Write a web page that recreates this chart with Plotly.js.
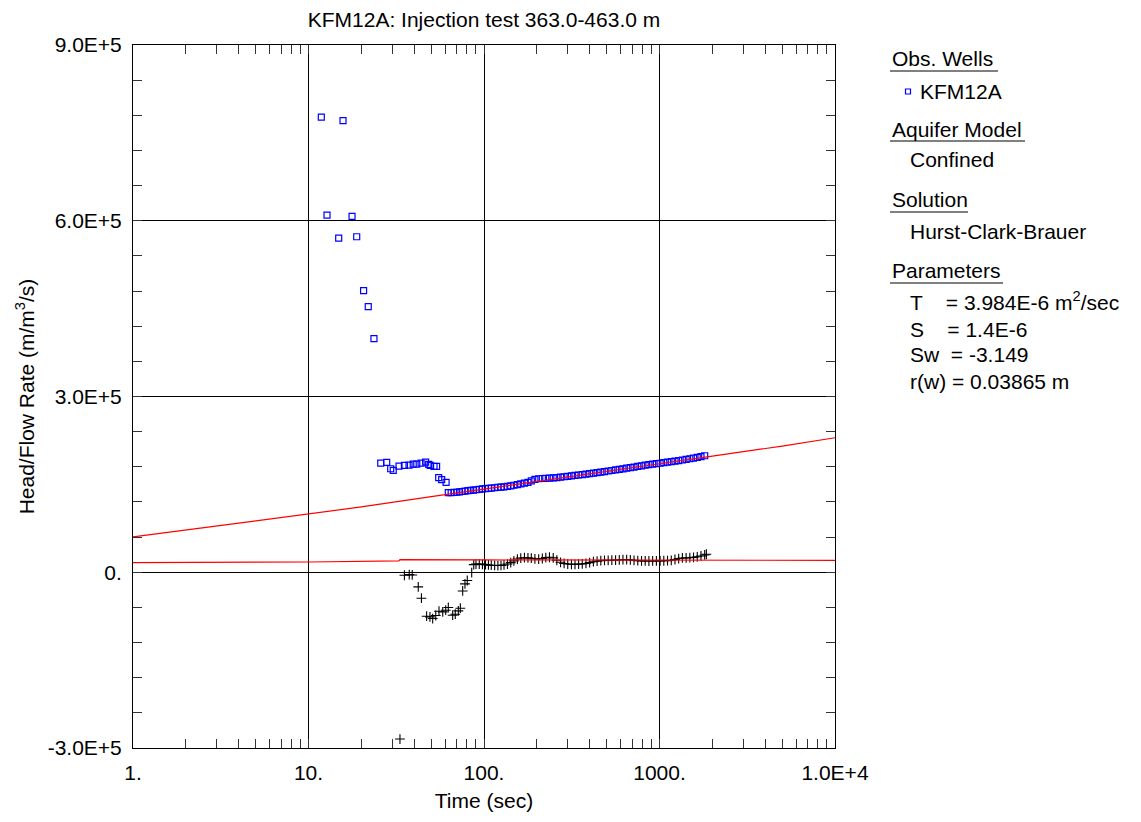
<!DOCTYPE html>
<html>
<head>
<meta charset="utf-8">
<script src="https://cdn.plot.ly/plotly-3.0.1.min.js"></script>
<style>html,body{margin:0;padding:0;background:#fff;}#chart{width:1141px;height:822px;}</style>
</head>
<body>
<div id="chart"></div>
<script>
// Observation well KFM12A (head / flow rate), blue squares
var obsTime = [11.83, 12.75, 14.86, 15.73, 17.7, 18.82, 20.6, 21.9, 23.6, 25.8, 27.9, 29.4, 30.4, 32.8, 35.2, 37.4, 39.5, 41.4, 43.8, 46.5, 48.4, 49.4, 51.9, 53.7, 55.2, 57.4, 60.8,
  62.6, 65, 67.5, 70, 72.5, 75, 78, 81, 84, 87, 90, 94, 98, 102, 106, 110, 115, 120, 125, 130, 136, 142, 148, 155, 162, 170, 178, 186, 195, 205, 215, 225, 236, 248, 260, 273, 286, 300, 315, 330, 346, 363, 381, 400, 420, 441, 463, 486, 510, 535, 562, 590, 619, 650, 682, 716, 752, 790, 829, 870, 914, 960, 1008, 1058, 1111, 1167, 1225, 1286, 1350, 1418, 1489, 1563, 1641, 1723, 1809];
var obsValue = [777000, 609700, 570500, 771000, 607300, 572700, 480700, 453400, 398900, 186300, 187500, 176700, 173900, 181200, 182400, 183000, 184600, 184600, 186300, 188000, 184100, 182400, 180700, 180700, 161400, 158000, 153400,
  135800, 136000, 136300, 136600, 137200, 137800, 138500, 139200, 139800, 140300, 140800, 141500, 142300, 142800, 143200, 143600, 144200, 144800, 145300, 145800, 146600, 147500, 148500, 149600, 150800, 152000, 153500, 156000, 158500, 159600, 160000, 160300, 160600, 161000, 161600, 162300, 163000, 163700, 164400, 165200, 166000, 166800, 167600, 168400, 169300, 170100, 171000, 171900, 172800, 173700, 174600, 175600, 176600, 177600, 178600, 179600, 180700, 181700, 182700, 183600, 184500, 185300, 186100, 187000, 187900, 188800, 189700, 190600, 191600, 192600, 193700, 194900, 196100, 197400, 198900];

// Derivative points, black crosses
var derTime = [33.2, 35.2, 37.5, 39.0, 42.2, 44.0, 47.1, 49.2, 51.0, 53.1, 55.4, 58.2, 60.5, 62.6, 66.3, 68.6, 71.4, 73.3, 75.6, 77.9, 80.3, 85.1, 87.4,
  90, 94, 98, 102, 106, 110, 115, 120, 125, 130, 136, 142, 148, 155, 162, 170, 178, 186, 195, 205, 215, 225, 236, 248, 260, 273, 286, 300, 315, 330, 346, 363, 381, 400, 420, 441, 463, 486, 510, 535, 562, 590, 619, 650, 682, 716, 752, 790, 829, 870, 914, 960, 1008, 1058, 1111, 1167, 1225, 1286, 1350, 1418, 1489, 1563, 1641, 1723, 1809, 1850];
var derValue = [-284700, -5100, -4000, -4600, -25000, -44300, -75000, -76200, -79000, -73800, -66500, -67600, -64800, -60200, -73300, -71600, -66000, -61400, -31900, -19900, -14100, -500, 13100,
  13800, 14000, 13500, 13000, 12500, 12000, 11600, 11400, 11800, 12500, 14000, 16500, 19500, 22500, 24200, 24800, 24500, 24000, 23000, 22500, 23500, 25000, 25600, 24500, 20500, 17000, 15000, 14000, 13600, 13600, 13800, 14200, 15000, 16500, 18000, 19000, 19800, 20200, 20400, 20600, 20800, 21000, 21400, 21600, 21200, 20400, 19800, 19400, 19300, 19200, 19300, 19400, 19500, 19600, 19800, 20400, 21800, 23400, 24400, 24600, 24800, 25400, 26400, 27800, 29500, 30700];

// Hurst-Clark-Brauer type curve (red)
var fitTime = [1, 2, 5, 10, 20, 50, 100, 200, 500, 1000, 2000, 5000, 10000];
var fitValue = [60200, 72000, 86800, 98500, 111500, 129000, 142300, 155200, 172200, 185200, 198200, 215300, 229600];
// Derivative of type curve (red)
var fitDerTime = [1, 10, 32.7, 33.2, 100, 1000, 10000];
var fitDerValue = [16500, 17500, 19300, 21400, 21000, 20600, 20400];

var xTickVals = [1, 10, 100, 1000, 10000];
var xTickText = ['1.', '10.', '100.', '1000.', '1.0E+4'];
var yTickVals = [-300000, 0, 300000, 600000, 900000];
var yTickText = ['-3.0E+5', '0.', '3.0E+5', '6.0E+5', '9.0E+5'];

var FONT = 'Liberation Sans, Arial, sans-serif';
var FS = 21;

var traces = [
  {x: obsTime, y: obsValue, mode: 'markers', type: 'scatter', name: 'KFM12A',
   marker: {symbol: 'square-open', size: 6, color: '#0000ff', line: {width: 1.2, color: '#0000ff'}}},
  {x: derTime, y: derValue, mode: 'markers', type: 'scatter', name: 'deriv',
   marker: {symbol: 'cross-thin-open', size: 7, color: '#000000', line: {width: 1.1, color: '#000000'}}},
  {x: fitTime, y: fitValue, mode: 'lines', type: 'scatter', line: {color: '#ff0000', width: 1.2}},
  {x: fitDerTime, y: fitDerValue, mode: 'lines', type: 'scatter', line: {color: '#ff0000', width: 1.2}}
];

var L = 133, R = 835, T = 45, B = 748;
function px(x) { return (x - L) / (R - L); }
function py(y) { return (B - y) / (B - T); }

var legendItems = [
  {t: 'Obs. Wells', x: 890, y: 58},
  {t: 'KFM12A', x: 918, y: 91},
  {t: 'Aquifer Model', x: 890, y: 129},
  {t: 'Confined', x: 908, y: 160},
  {t: 'Solution', x: 890, y: 200},
  {t: 'Hurst-Clark-Brauer', x: 908, y: 231},
  {t: 'Parameters', x: 890, y: 270},
  {t: 'T    = 3.984E-6 m<sup>2</sup>/sec', x: 908, y: 301},
  {t: 'S    = 1.4E-6', x: 908, y: 329},
  {t: 'Sw  = -3.149', x: 908, y: 355},
  {t: 'r(w) = 0.03865 m', x: 908, y: 381}
];
var annotations = legendItems.map(function (a) {
  return {text: a.t, xref: 'paper', yref: 'paper', x: px(a.x), y: py(a.y), xanchor: 'left', yanchor: 'middle',
    showarrow: false, font: {family: FONT, size: FS, color: '#000'}};
});
var underlines = [[890, 998, 71], [890, 1025, 141], [890, 968, 212], [890, 1003, 283]];
var shapes = underlines.map(function (u) {
  return {type: 'line', xref: 'paper', yref: 'paper', x0: px(u[0]), x1: px(u[1]), y0: py(u[2]), y1: py(u[2]),
    line: {color: '#000', width: 1}};
});
shapes.push({type: 'rect', xref: 'paper', yref: 'paper', x0: px(905.5), x1: px(910.5), y0: py(89), y1: py(94),
  line: {color: '#0000ff', width: 1.2}});

var layout = {
  width: 1141, height: 822,
  margin: {l: L, r: 1141 - R, t: T, b: 822 - B, pad: 0},
  paper_bgcolor: '#fff', plot_bgcolor: '#fff',
  showlegend: false,
  font: {family: FONT, size: FS, color: '#000'},
  title: {text: 'KFM12A: Injection test 363.0-463.0 m', x: px(484), xref: 'paper', xanchor: 'center',
    y: 1 - 20 / 822, yref: 'container', yanchor: 'middle', font: {family: FONT, size: FS, color: '#000'}},
  xaxis: {type: 'log', range: [0, 4], tickvals: xTickVals, ticktext: xTickText,
    showgrid: true, gridcolor: '#000', gridwidth: 1, zeroline: false,
    showline: true, linecolor: '#000', linewidth: 1, mirror: 'allticks',
    ticks: 'inside', ticklen: 9, tickcolor: '#333', ticklabelstandoff: 6,
    minor: {ticks: 'inside', ticklen: 9, tickcolor: '#333', dtick: 'D1', showgrid: false},
    tickfont: {family: FONT, size: FS, color: '#000'},
    title: {text: 'Time (sec)', standoff: 10, font: {family: FONT, size: FS, color: '#000'}}},
  yaxis: {range: [-300000, 900000], tickvals: yTickVals, ticktext: yTickText,
    showgrid: true, gridcolor: '#000', gridwidth: 1, zeroline: false,
    showline: true, linecolor: '#000', linewidth: 1, mirror: 'allticks',
    ticks: 'inside', ticklen: 9, tickcolor: '#333', ticklabelstandoff: 6,
    minor: {ticks: 'inside', ticklen: 9, tickcolor: '#333', dtick: 60000, showgrid: false},
    tickfont: {family: FONT, size: FS, color: '#000'},
    title: {text: 'Head/Flow Rate (m/m<sup>3</sup>/s)', standoff: 7, font: {family: FONT, size: FS, color: '#000'}}},
  annotations: annotations,
  shapes: shapes
};

Plotly.newPlot('chart', traces, layout, {displayModeBar: false, staticPlot: true});
</script>
</body>
</html>
